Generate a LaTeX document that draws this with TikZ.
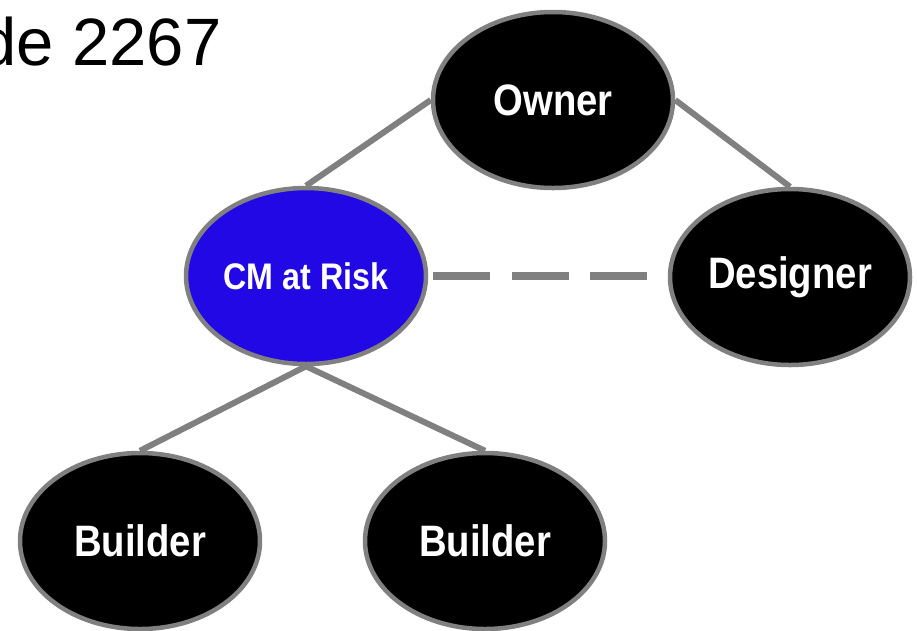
\documentclass[tikz,border=0pt]{standalone}
\usepackage{fontspec}
\setmainfont{Liberation Sans}
\newfontfamily\lblfont[FakeStretch=0.87]{Liberation Sans}
\usetikzlibrary{shapes.geometric}
\definecolor{linegray}{RGB}{128,128,128}
\definecolor{cmblue}{RGB}{34,8,228}
\tikzset{
  every picture/.style={x=1pt,y=-1pt},
  party/.style={ellipse, draw=linegray, line width=4.5pt, fill=black, text=white,
    minimum width=240pt, minimum height=176pt, inner sep=0pt,
    font=\lblfont\bfseries\fontsize{44}{44}\selectfont},
  cmnode/.style={party, fill=cmblue, font=\lblfont\bfseries\fontsize{37}{37}\selectfont},
  link/.style={draw=linegray, line width=6pt},
  dashlink/.style={draw=linegray, line width=7.5pt, dash pattern=on 57pt off 21.5pt}
}
\begin{document}
\begin{tikzpicture}
\useasboundingbox (0,0) rectangle (917,630);
\node[anchor=base west, font=\fontsize{67}{67}\selectfont, inner sep=0pt] (title) at (-21,65) {de 2267};
\node[party] (owner) at (553,100) {Owner};
\node[cmnode] (cm) at (306,276) {CM at Risk};
\node[party] (des) at (790,277) {Designer};
\node[party] (b1) at (140,541) {Builder};
\node[party] (b2) at (485,541) {Builder};
\draw[link] (owner.west) -- (cm.north);
\draw[link] (owner.east) -- (des.north);
\draw[link] (cm.south) -- (b1.north);
\draw[link] (cm.south) -- (b2.north);
\draw[dashlink, shorten <=5pt, shorten >=19pt] (cm.east) -- (des.west |- cm.east);
\end{tikzpicture}
\end{document}
